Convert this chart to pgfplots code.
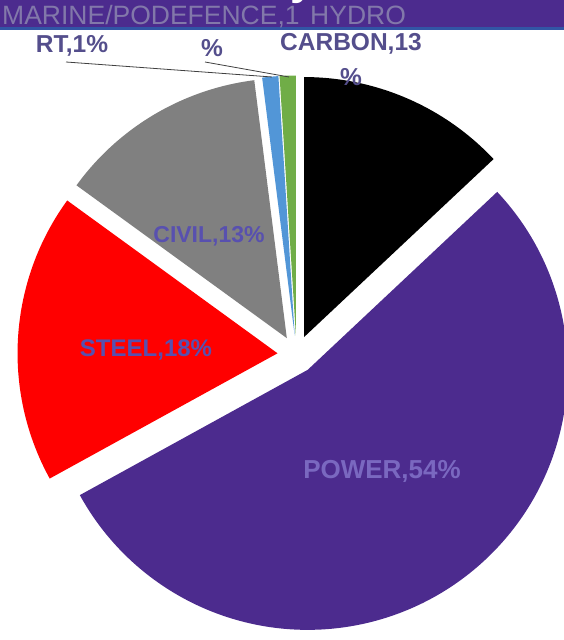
\documentclass[border=0pt]{standalone}
\usepackage{pgfplots}
\pgfplotsset{compat=1.18}
\usepackage{pgfplotstable}
\usepackage{fontspec}
\setmainfont{Liberation Sans}

\definecolor{carbonc}{RGB}{0,0,0}
\definecolor{powerc}{RGB}{76,43,142}
\definecolor{steelc}{RGB}{255,0,0}
\definecolor{civilc}{RGB}{128,128,128}
\definecolor{marinec}{RGB}{82,150,215}
\definecolor{hydroc}{RGB}{112,173,71}
\definecolor{labc}{RGB}{84,78,140}
\definecolor{inlabc}{RGB}{88,80,175}
\definecolor{powlabc}{RGB}{122,104,192}
\definecolor{bannerc}{RGB}{76,43,142}
\definecolor{bannerline}{RGB}{50,85,165}
\definecolor{bantext}{RGB}{130,120,170}

\pgfplotstableread{
label pct col
CARBON 13 carbonc
POWER 54 powerc
STEEL 18 steelc
CIVIL 13 civilc
MARINE 1 marinec
HYDRO 1 hydroc
}\piedata

\begin{document}
\begin{tikzpicture}
\begin{axis}[x=1pt, y=1pt, xmin=0, xmax=564, ymin=0, ymax=640,
  hide axis, clip=false]
\fill[white] (axis cs:0,0) rectangle (axis cs:564,640);
% pie
\pgfplotstablegetrowsof{\piedata}
\pgfmathtruncatemacro\N{\pgfplotsretval-1}
\def\startang{90}
\pgfplotsforeachungrouped \i in {0,...,\N}{%
  \pgfplotstablegetelem{\i}{pct}\of\piedata \let\p\pgfplotsretval
  \pgfplotstablegetelem{\i}{col}\of\piedata \let\col\pgfplotsretval
  \pgfmathsetmacro\sweep{3.6*\p}%
  \pgfmathsetmacro\endang{\startang-\sweep}%
  \pgfmathsetmacro\midang{\startang-\sweep/2}%
  \pgfmathsetmacro\ox{296.5+19*cos(\midang)}%
  \pgfmathsetmacro\oy{285.5+19*sin(\midang)}%
  \edef\temp{\noexpand\fill[\col, overlay] (axis cs:\ox,\oy) -- ++(\startang:260pt) arc[start angle=\startang, end angle=\endang, radius=260pt] -- cycle;}%
  \temp
  \let\startang\endang
}
% banner
\fill[bannerc] (axis cs:0,612) rectangle (axis cs:564,640);
\fill[bannerline] (axis cs:0,610) rectangle (axis cs:564,612.5);
\node[overlay, anchor=base, text=white, font=\bfseries\fontsize{44}{44}\selectfont] at (axis cs:303,645) {y};
\node[anchor=base west, inner sep=0pt, text=bantext, font=\fontsize{26.5}{26.5}\selectfont] at (axis cs:2,615) {MARINE/PODEFENCE,1};
\node[anchor=base west, inner sep=0pt, text=bantext, font=\fontsize{26.5}{26.5}\selectfont] at (axis cs:310,615) {HYDRO};
% leader lines
\draw[black!75, line width=0.8pt] (axis cs:66,578) -- (axis cs:272,563);
\draw[black!75, line width=0.8pt] (axis cs:205,578) -- (axis cs:289,563);
% labels
\node[text=labc, font=\bfseries\fontsize{24.5}{24.5}\selectfont] at (axis cs:351,596) {CARBON,13};
\node[text=labc, font=\bfseries\fontsize{24.5}{24.5}\selectfont] at (axis cs:351,563) {\%};
\node[text=labc, font=\bfseries\fontsize{24.5}{24.5}\selectfont] at (axis cs:72,594) {RT,1\%};
\node[text=labc, font=\bfseries\fontsize{24.5}{24.5}\selectfont] at (axis cs:212,592) {\%};
\node[text=inlabc, font=\bfseries\fontsize{23}{23}\selectfont] at (axis cs:209,404) {CIVIL,13\%};
\node[text=inlabc, font=\bfseries\fontsize{24}{24}\selectfont] at (axis cs:146,290) {STEEL,18\%};
\node[text=powlabc, font=\bfseries\fontsize{26}{26}\selectfont] at (axis cs:382,169) {POWER,54\%};
\end{axis}
\end{tikzpicture}
\end{document}
